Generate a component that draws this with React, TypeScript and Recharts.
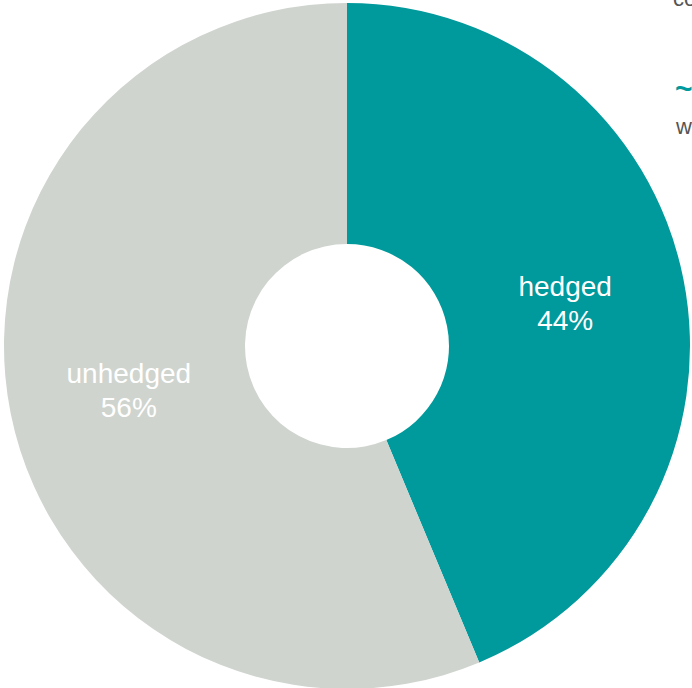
import React from "react";
import { PieChart, Pie, Cell } from "recharts";

const categories = ["hedged", "unhedged"];
const values = [43.7, 56.3];
const colors = ["#00999C", "#CFD4CF"];

const data = categories.map((name, i) => ({ name, value: values[i] }));

const RAD = Math.PI / 180;
const FONT = "'Liberation Sans', Arial, sans-serif";

const renderLabel = (props: any) => {
  const { cx, cy, midAngle, innerRadius, outerRadius, name, value } = props;
  const r = (innerRadius + outerRadius) / 2;
  const x = cx + r * Math.cos(-midAngle * RAD);
  const y = cy + r * Math.sin(-midAngle * RAD);
  return (
    <text x={x} y={y} fill="#FFFFFF" textAnchor="middle" fontFamily={FONT} fontSize={28}>
      <tspan x={x} dy={-6.5}>{name}</tspan>
      <tspan x={x} dy={34}>{Math.round(value)}%</tspan>
    </text>
  );
};

export default function App() {
  return (
    <div
      style={{
        position: "fixed",
        left: 0,
        top: 0,
        width: 692,
        height: 688,
        overflow: "hidden",
        background: "#FFFFFF",
      }}
    >
      <PieChart width={692} height={688} margin={{ top: 0, right: 0, bottom: 0, left: 0 }}>
        <Pie
          data={data}
          dataKey="value"
          nameKey="name"
          cx={347}
          cy={346}
          innerRadius={102}
          outerRadius={343}
          startAngle={90}
          endAngle={-270}
          stroke="none"
          isAnimationActive={false}
          labelLine={false}
          label={renderLabel}
        >
          {data.map((d, i) => (
            <Cell key={d.name} fill={colors[i]} />
          ))}
        </Pie>
      </PieChart>
      <div
        style={{
          position: "absolute",
          left: 673,
          top: -14,
          fontFamily: FONT,
          fontSize: 22,
          color: "#555555",
          whiteSpace: "nowrap",
        }}
      >
        covered
      </div>
      <div
        style={{
          position: "absolute",
          left: 675,
          top: 72,
          fontFamily: FONT,
          fontSize: 30,
          fontWeight: "bold",
          color: "#00999C",
          whiteSpace: "nowrap",
        }}
      >
        ~
      </div>
      <div
        style={{
          position: "absolute",
          left: 676,
          top: 114,
          fontFamily: FONT,
          fontSize: 22,
          color: "#555555",
          whiteSpace: "nowrap",
        }}
      >
        with
      </div>
    </div>
  );
}
